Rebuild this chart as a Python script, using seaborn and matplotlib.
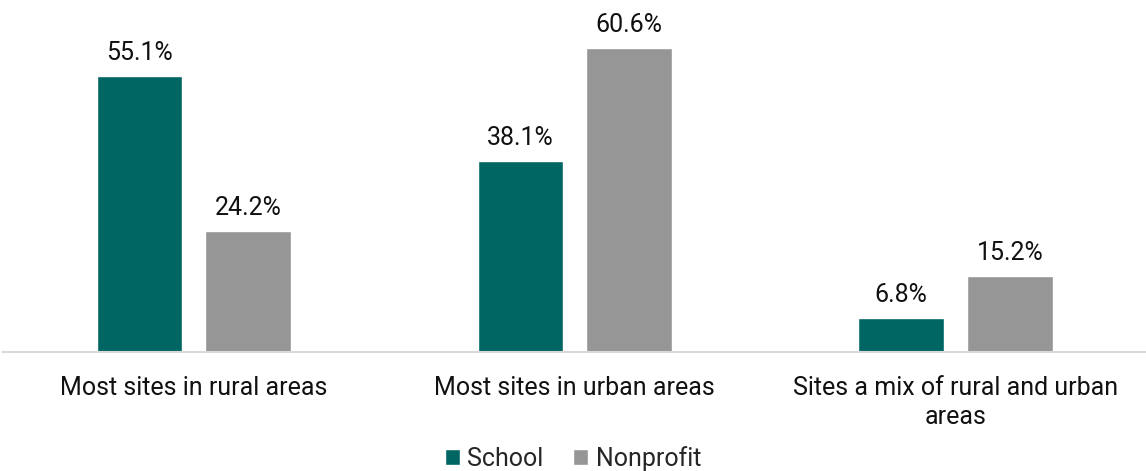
import matplotlib
matplotlib.use("Agg")
import matplotlib.pyplot as plt
import pandas as pd
import seaborn as sns
from matplotlib.patches import Patch

categories = ["Most sites in rural areas", "Most sites in urban areas",
              "Sites a mix of rural and urban\nareas"]
series = ["School", "Nonprofit"]
school = [55.1, 38.1, 6.8]
nonprofit = [24.2, 60.6, 15.2]
colors = {"School": "#006663", "Nonprofit": "#969696"}

df = pd.DataFrame({
    "category": categories * 2,
    "type": ["School"] * 3 + ["Nonprofit"] * 3,
    "value": school + nonprofit,
})

sns.set_theme(style="white")
plt.rcParams["font.family"] = ["Roboto", "DejaVu Sans"]

fig = plt.figure(figsize=(11.46, 4.71), dpi=100)
ax = fig.add_axes([0.003, 0.2527, 0.997, 0.7233])

sns.barplot(data=df, x="category", y="value", hue="type", hue_order=series,
            palette=colors, width=0.57, gap=0.21, saturation=1,
            legend=False, ax=ax)

for container in ax.containers:
    ax.bar_label(container, labels=[f"{v:.1f}%" for v in container.datavalues],
                 padding=8, fontsize=18, color="#111111")

ax.set_ylim(0, 68)
ax.set_xlim(-0.5, 2.5)
ax.set_xlabel("")
ax.set_ylabel("")
ax.set_yticks([])
for side in ["top", "right", "left"]:
    ax.spines[side].set_visible(False)
ax.spines["bottom"].set_color("#d9d9d9")
ax.spines["bottom"].set_linewidth(1.5)
ax.tick_params(axis="x", length=0, pad=17, labelsize=18, labelcolor="#111111")
for lbl in ax.get_xticklabels():
    lbl.set_linespacing(1.3)

handles = [Patch(facecolor=colors[s], label=s) for s in series]
fig.legend(handles=handles, loc="lower center", bbox_to_anchor=(0.5, -0.048),
           ncol=2, frameon=False, fontsize=18, handlelength=0.6,
           handleheight=0.6, handletextpad=0.3, columnspacing=1.2)

fig.savefig("out.png", dpi=100)
